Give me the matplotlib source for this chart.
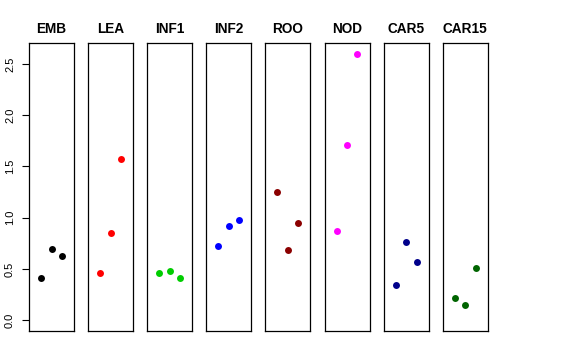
import matplotlib
matplotlib.use('Agg')
from matplotlib import pyplot as plt

matplotlib.rc('font', family=['Liberation Sans', 'DejaVu Sans'])

tissues = ['EMB', 'LEA', 'INF1', 'INF2', 'ROO', 'NOD', 'CAR5', 'CAR15']
colours = ['black', 'red', '#00cd00', 'blue', '#8b0000', 'magenta', '#00008b', '#006400']
reps = [1, 2, 3]
values = [
    [0.413, 0.691, 0.627],
    [0.461, 0.847, 1.574],
    [0.464, 0.484, 0.409],
    [0.727, 0.919, 0.983],
    [1.256, 0.682, 0.948],
    [0.867, 1.708, 2.600],
    [0.348, 0.760, 0.569],
    [0.221, 0.153, 0.510],
]
yticks = [0.0, 0.5, 1.0, 1.5, 2.0, 2.5]

W, H = 576.0, 360.0
fig = plt.figure(figsize=(W / 100, H / 100), dpi=100)

ymax = max(max(v) for v in values)
ylim = (-0.04 * ymax, ymax * 1.04)

left0, step, width = 29.0, 59.1, 45.0
top, bottom = 43.0, 331.0

for i, (name, col, vals) in enumerate(zip(tissues, colours, values)):
    ax = fig.add_axes([(left0 + i * step) / W, (H - bottom) / H,
                       width / W, (bottom - top) / H])
    ax.plot(reps, vals, 'o', color=col, markersize=5, markeredgewidth=0)
    ax.set_xlim(-0.16, 4.16)
    ax.set_ylim(*ylim)
    ax.set_xticks([])
    ax.set_title(name, fontsize=9.8, fontweight='bold', pad=7)
    for s in ax.spines.values():
        s.set_linewidth(0.9)
    if i == 0:
        ax.set_yticks(yticks)
        ax.set_yticklabels(['{:.1f}'.format(t) for t in yticks],
                           rotation=90, va='center', fontsize=8)
        ax.tick_params(axis='y', length=5, width=0.8, pad=5)
    else:
        ax.set_yticks([])

fig.savefig('out.png', dpi=100)
